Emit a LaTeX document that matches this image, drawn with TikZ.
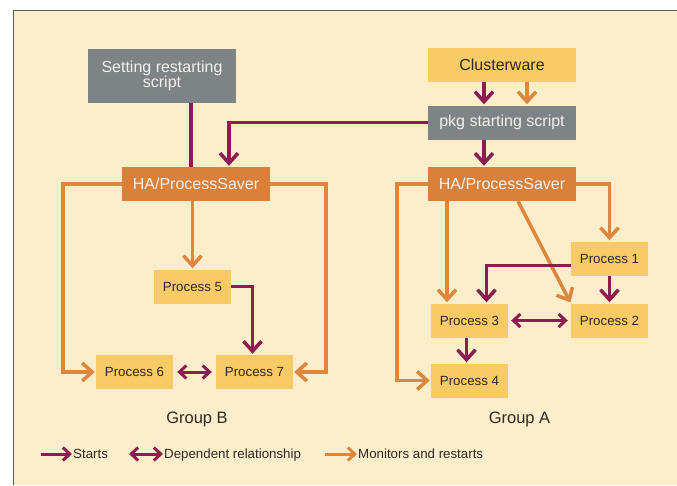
\documentclass[tikz,border=0pt]{standalone}
\usepackage{fontspec}
\setmainfont{Liberation Sans}
\usetikzlibrary{arrows.meta}
\definecolor{cream}{RGB}{252,237,203}
\definecolor{framegray}{RGB}{90,90,90}
\definecolor{boxgray}{RGB}{126,131,134}
\definecolor{haorange}{RGB}{217,129,58}
\definecolor{procyellow}{RGB}{249,203,103}
\definecolor{startred}{RGB}{142,27,82}
\definecolor{monorange}{RGB}{222,134,60}
\definecolor{textdark}{RGB}{45,40,35}
\definecolor{textlight}{RGB}{245,240,235}
\begin{document}
\begin{tikzpicture}[x=1pt, y=-1pt,
                box/.style={
                    inner sep=0pt, minimum width=148pt, minimum height=34pt,
                    font=\fontsize{16}{15}\selectfont, align=center
                },
                graybox/.style={box, fill=boxgray, text=textlight},
                hanode/.style={box, fill=haorange, text=textlight},
                topnode/.style={box, fill=procyellow, text=textdark},
                procnode/.style={
                    inner sep=0pt, minimum width=77pt, minimum height=34pt,
                    fill=procyellow, text=textdark, font=\fontsize{13.3}{16}\selectfont
                },
                grouplabel/.style={text=textdark, font=\fontsize{16.5}{18}\selectfont},
                legend/.style={
                    inner sep=1pt, anchor=west, text height=9.5pt, text depth=0pt,
                    text=textdark, font=\fontsize{13.3}{16}\selectfont
                },
                starts/.style={
                    draw=startred, line width=3.5pt, -{Straight Barb[length=10pt, width=18pt]},
                    shorten >=1pt
                },
                depends/.style={
                    draw=startred, line width=3pt,
                    {Straight Barb[length=7pt, width=13pt]}-{Straight Barb[length=7pt, width=13pt]}
                },
                monitors/.style={
                    draw=monorange, line width=3.5pt, -{Straight Barb[length=10pt, width=18pt]},
                    shorten >=1pt
                }
            ]
            \useasboundingbox (0,0) rectangle (677,485);
            \fill[cream] (13,10) rectangle (677,485);
            \draw[framegray, line width=1pt] (13,485) -- (13,10) -- (677,10);

            \node[graybox, minimum height=54pt] (setting) at (162, 76) {Setting restarting\\script};
            \node[topnode] (cluster) at (502, 64.5) {Clusterware};
            \node[graybox] (pkg) at (502, 122.5) {pkg starting script};
            \node[hanode] (haB) at (196, 184) {HA/ProcessSaver};
            \node[hanode] (haA) at (502, 184) {HA/ProcessSaver};

            \node[procnode] (p5) at (192.5, 286.5) {Process 5};
            \node[procnode] (p6) at (134.5, 372) {Process 6};
            \node[procnode] (p7) at (254.5, 372) {Process 7};
            \node[procnode] (p1) at (609.5, 258.5) {Process 1};
            \node[procnode] (p2) at (609.5, 320.5) {Process 2};
            \node[procnode] (p3) at (469.5, 320.5) {Process 3};
            \node[procnode] (p4) at (469.5, 380.5) {Process 4};

            \node[grouplabel] (grpB) at (197, 419) {Group B};
            \node[grouplabel] (grpA) at (519.5, 419) {Group A};

            % group A
            \draw[starts] ([xshift=-18pt]cluster.south) -- ([xshift=-18pt]pkg.north);
            \draw[monitors] ([xshift=25pt]cluster.south) -- ([xshift=25pt]pkg.north);
            \draw[starts] ([xshift=-18pt]pkg.south) -- ([xshift=-18pt]haA.north);
            \draw[monitors] (haA.west) -- ++(-31,0) |- (p4.west);
            \draw[monitors] ([xshift=-55pt]haA.south) -- ([xshift=-22.5pt]p3.north);
            \draw[monitors] ([xshift=16pt]haA.south) -- (p2.north west);
            \draw[monitors] (haA.east) -| (p1.north);
            \draw[starts] ([yshift=-7pt]p1.west) -| ([xshift=17pt]p3.north);
            \draw[starts] (p1.south) -- (p2.north);
            \draw[depends, shorten <=3pt, shorten >=3pt] (p3.east) -- (p2.west);
            \draw[starts] ([xshift=-3pt]p3.south) -- ([xshift=-3pt]p4.north);

            % group B
            \draw[startred, line width=3.5pt] ([xshift=29pt]setting.south) -- ([xshift=-5pt]haB.north);
            \draw[starts] (pkg.west) -| ([xshift=33pt]haB.north);
            \draw[monitors] (haB.west) -- ++(-59,0) |- (p6.west);
            \draw[monitors] (p5.north |- haB.south) -- (p5.north);
            \draw[monitors] (haB.east) -- ++(56,0) |- (p7.east);
            \draw[starts] (p5.east) -| ([xshift=-2pt]p7.north);
            \draw[depends, shorten <=4pt, shorten >=4pt] (p6.east) -- (p7.west);

            % legend
            \coordinate (lgS) at (41, 454);
            \coordinate (lgD) at (129, 454);
            \coordinate (lgM) at (325, 454);
            \node[legend] (lgStarts) at (72, 454) {Starts};
            \node[legend] (lgDepends) at (163, 454) {Dependent relationship};
            \node[legend] (lgMonitors) at (357, 454) {Monitors and restarts};
            \draw[starts, line width=3pt, -{Straight Barb[length=7pt, width=13pt]}, shorten >=0pt] (lgS) -- (lgStarts.west);
            \draw[depends] (lgD) -- (lgDepends.west);
            \draw[monitors, line width=3pt, -{Straight Barb[length=7pt, width=13pt]}, shorten >=0pt] (lgM) -- (lgMonitors.west);
            \end{tikzpicture}
\end{document}
